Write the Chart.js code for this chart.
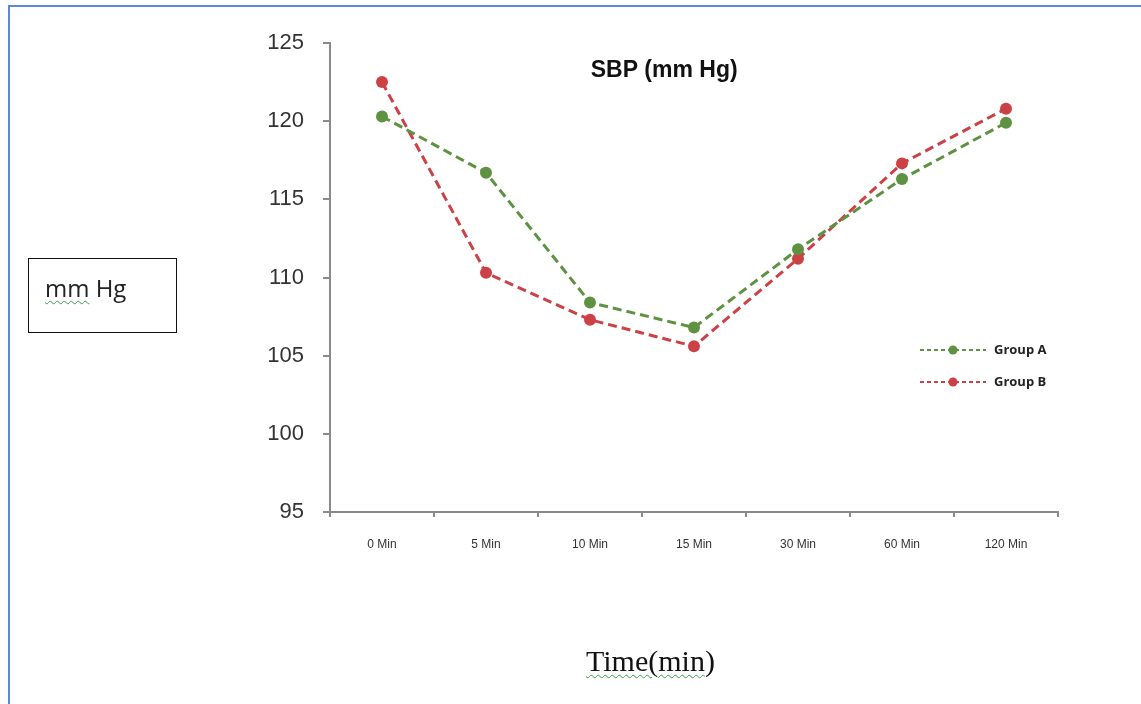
<!DOCTYPE html>
<html>
<head>
<meta charset="utf-8">
<script src="https://cdn.jsdelivr.net/npm/chart.js@4.4.1/dist/chart.umd.min.js"></script>
<style>
  html, body { margin: 0; padding: 0; background: #fff; }
  body { width: 1141px; height: 704px; position: relative; overflow: hidden; }
  #frame { position: absolute; left: 8px; top: 5px; width: 1132px; height: 710px;
           border-top: 2px solid #5a8ad6; border-left: 2px solid #5a8ad6; }
  #wrap { position: absolute; left: 0; top: 0; width: 1141px; height: 704px; }
  #unitBox { position: absolute; left: 28px; top: 258px; width: 149px; height: 75px;
             border: 1.5px solid #111; box-sizing: border-box;
             font-family: 'Open Sans', 'Liberation Sans', sans-serif; font-size: 24px; color: #222; }
  #unitBox span.txt { position: absolute; left: 16px; top: 12px; }
  .wavy { text-decoration: underline wavy #3aa04a; text-decoration-thickness: 1px; text-underline-offset: 3px; }
  #xTitle { position: absolute; left: 586px; top: 644px;
            font-family: 'Liberation Serif', 'DejaVu Serif', serif; font-size: 30px; color: #111; }
</style>
</head>
<body>
<div id="frame"></div>
<div id="wrap"><canvas id="myChart" width="1141" height="704"></canvas></div>
<div id="unitBox"><span class="txt"><span class="wavy">mm</span> Hg</span></div>
<div id="xTitle"><span class="wavy">Time(min</span>)</div>
<script>
const timeLabels = ["0 Min", "5 Min", "10 Min", "15 Min", "30 Min", "60 Min", "120 Min"];
const groupA = [120.3, 116.7, 108.4, 106.8, 111.8, 116.3, 119.9];
const groupB = [122.5, 110.3, 107.3, 105.6, 111.2, 117.3, 120.8];
const yTicks = [95, 100, 105, 110, 115, 120, 125];

const greenCol = '#5e9141';
const redCol = '#cc4146';
const axisCol = '#8a8a8a';

var ctx = document.getElementById("myChart").getContext("2d");

var data1 = {
  labels: timeLabels,
  datasets: [
    {
      label: 'Group A',
      data: groupA,
      borderColor: greenCol,
      backgroundColor: greenCol,
      borderWidth: 3,
      borderDash: [9, 5],
      pointRadius: 6,
      pointBorderWidth: 0,
      tension: 0
    },
    {
      label: 'Group B',
      data: groupB,
      borderColor: redCol,
      backgroundColor: redCol,
      borderWidth: 3,
      borderDash: [9, 5],
      pointRadius: 6,
      pointBorderWidth: 0,
      tension: 0
    }
  ]
};

// title + legend drawn by hand (dashed line with dot in the middle)
const sideLegend = {
  id: 'sideLegend',
  afterDraw(chart) {
    const { ctx, chartArea } = chart;
    ctx.save();
    // title
    ctx.font = 'bold 23px "Liberation Sans", Arial, sans-serif';
    ctx.fillStyle = '#111';
    ctx.textAlign = 'center';
    ctx.textBaseline = 'middle';
    ctx.fillText('SBP (mm Hg)', chartArea.left + chartArea.width * 0.459, 71);

    // legend
    const lx = chartArea.right - 138;
    chart.data.datasets.forEach((ds, i) => {
      const ly = 350 + i * 32;
      ctx.strokeStyle = ds.borderColor;
      ctx.lineWidth = 2;
      ctx.setLineDash([4, 3]);
      ctx.beginPath();
      ctx.moveTo(lx, ly);
      ctx.lineTo(lx + 66, ly);
      ctx.stroke();
      ctx.setLineDash([]);
      ctx.fillStyle = ds.backgroundColor;
      ctx.beginPath();
      ctx.arc(lx + 33, ly, 4.5, 0, Math.PI * 2);
      ctx.fill();
      ctx.fillStyle = '#222';
      ctx.font = 'bold 13px "Open Sans", "Liberation Sans", sans-serif';
      ctx.textAlign = 'left';
      ctx.fillText(ds.label, lx + 74, ly);
    });
    ctx.restore();
  }
};

var options = {
  responsive: false,
  animation: false,
  layout: { padding: { left: 0, top: 43, right: 83, bottom: 0 } },
  plugins: {
    legend: { display: false },
    title: { display: false },
    tooltip: { enabled: false }
  },
  scales: {
    x: {
      type: 'category',
      offset: true,
      afterFit(scale) { scale.height = 192; },
      grid: { display: true, drawOnChartArea: false, offset: true, tickLength: 5, color: axisCol, lineWidth: 2 },
      border: { display: true, color: axisCol, width: 2 },
      ticks: { color: '#333', padding: 20, maxRotation: 0, font: { size: 12, family: '"Liberation Sans", Arial, sans-serif' } }
    },
    y: {
      min: 95,
      max: 125,
      afterFit(scale) { scale.width = 330; },
      afterBuildTicks(scale) { scale.ticks = yTicks.map(v => ({ value: v })); },
      grid: { display: true, drawOnChartArea: false, tickLength: 7, color: axisCol, lineWidth: 2 },
      border: { display: true, color: axisCol, width: 2 },
      ticks: { color: '#333', padding: 19, font: { size: 22, family: '"Liberation Sans", Arial, sans-serif' } }
    }
  }
};

var chart1 = new Chart(ctx, {
  type: 'line',
  data: data1,
  options: options,
  plugins: [sideLegend]
});
</script>
</body>
</html>
